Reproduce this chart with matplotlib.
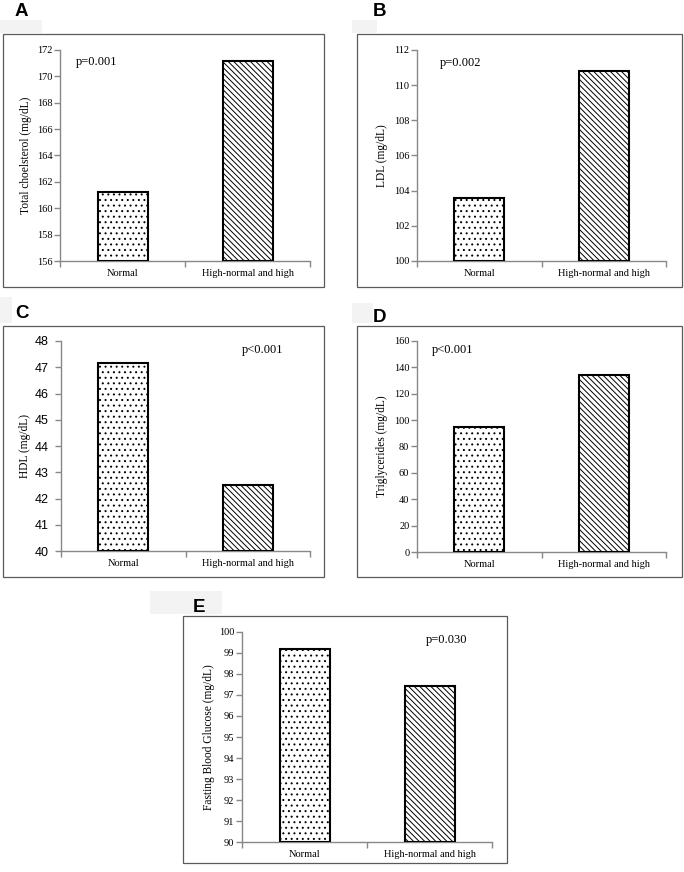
import matplotlib
matplotlib.use('Agg')
import matplotlib.pyplot as plt
from matplotlib.patches import Rectangle
import numpy as np

plt.rcParams['font.family'] = ['Liberation Serif', 'DejaVu Serif']
plt.rcParams['hatch.linewidth'] = 0.7

W, H = 684, 872

categories = ['Normal', 'High-normal and high']
chol = [161.2, 171.2]
ldl = [103.6, 110.8]
hdl = [47.15, 42.5]
tg = [94.5, 134.3]
fbg = [99.2, 97.45]

panels = [
    # letter, values, ylabel, ylim, step, p text, p pos, label x, tick font
    ('A', chol, 'Total choelsterol (mg/dL)', (156, 172), 2, 'p=0.001', (0.064, 0.943), -0.136, 'serif'),
    ('B', ldl, 'LDL (mg/dL)', (100, 112), 2, 'p=0.002', (0.092, 0.938), -0.141, 'serif'),
    ('C', hdl, 'HDL (mg/dL)', (40, 48), 1, 'p<0.001', (0.727, 0.956), -0.145, 'sans'),
    ('D', tg, 'Triglycerides (mg/dL)', (0, 160), 20, 'p<0.001', (0.060, 0.956), -0.141, 'serif'),
    ('E', fbg, 'Fasting Blood Glucose (mg/dL)', (90, 100), 1, 'p=0.030', (0.735, 0.960), -0.132, 'serif'),
]

# pixel geometry (left, top, right, bottom)
axes_px = [(60, 50, 310, 261), (417, 50, 666, 261), (61, 341, 310, 551),
           (417, 341, 666, 552), (242, 632, 492, 842)]
box_px = [(3, 34, 324, 287), (357, 34, 682, 287), (3, 326, 324, 577),
          (357, 326, 682, 577), (183, 616, 507, 863)]
letter_px = [(15, 16), (373, 16), (15, 318), (373, 322), (193, 612)]
shade_px = [(0, 20, 42, 33), (352, 20, 377, 33), (0, 297, 12, 323),
            (352, 303, 373, 323), (150, 591, 222, 614)]


def frac(l, t, r, b):
    return [l / W, 1 - b / H, (r - l) / W, (b - t) / H]


fig = plt.figure(figsize=(W / 100, H / 100), dpi=100)

for (l, t, r, b) in shade_px:
    fig.patches.append(Rectangle((l / W, 1 - b / H), (r - l) / W, (b - t) / H,
                                 transform=fig.transFigure, facecolor='#f3f3f3',
                                 edgecolor='none', zorder=-2))

for (l, t, r, b) in box_px:
    fig.patches.append(Rectangle((l / W, 1 - b / H), (r - l) / W, (b - t) / H,
                                 transform=fig.transFigure, facecolor='white',
                                 edgecolor='#5a5a5a', linewidth=0.9, zorder=-1))

for i, (letter, vals, ylab, ylim, step, ptxt, ppos, labx, tfont) in enumerate(panels):
    ax = fig.add_axes(frac(*axes_px[i]))
    ax.set_facecolor('none')
    x = np.arange(len(categories))
    bars = ax.bar(x, [v - ylim[0] for v in vals], width=0.4, bottom=ylim[0],
                  color='white', edgecolor='black', linewidth=1.5, zorder=3)
    bars[0].set_hatch('...')
    bars[1].set_hatch('\\' * 6)

    ax.set_xlim(-0.5, 1.5)
    ax.set_ylim(*ylim)
    ax.set_yticks(np.arange(ylim[0], ylim[1] + step / 2, step))
    ax.set_xticks(x)
    ax.set_xticklabels(categories, fontsize=7.5)
    ax.set_xticks([-0.5, 0.5, 1.5], minor=True)
    ax.tick_params(axis='x', which='major', length=0, pad=6)
    ax.tick_params(axis='x', which='minor', length=4, width=1, color='#888888', direction='out')

    if tfont == 'sans':
        ax.tick_params(axis='y', length=4, width=1, color='#888888', pad=5)
        for lab in ax.get_yticklabels():
            lab.set_family('Liberation Sans')
            lab.set_fontsize(9)
    else:
        ax.tick_params(axis='y', length=4, width=1, color='#888888', pad=1.5, labelsize=7.5)

    for s in ['top', 'right']:
        ax.spines[s].set_visible(False)
    for s in ['left', 'bottom']:
        ax.spines[s].set_color('#888888')
        ax.spines[s].set_linewidth(1.0)

    ax.set_ylabel(ylab, fontsize=8.3, va='center')
    ax.yaxis.set_label_coords(labx, 0.5)

    ax.text(ppos[0], ppos[1], ptxt, transform=ax.transAxes, fontsize=9,
            ha='left', va='center')

    lx, ly = letter_px[i]
    fig.text(lx / W, 1 - ly / H, letter, fontsize=13.5, fontweight='bold',
             family=['Liberation Sans', 'DejaVu Sans'], ha='left', va='baseline')

fig.savefig('out.png', dpi=100)
